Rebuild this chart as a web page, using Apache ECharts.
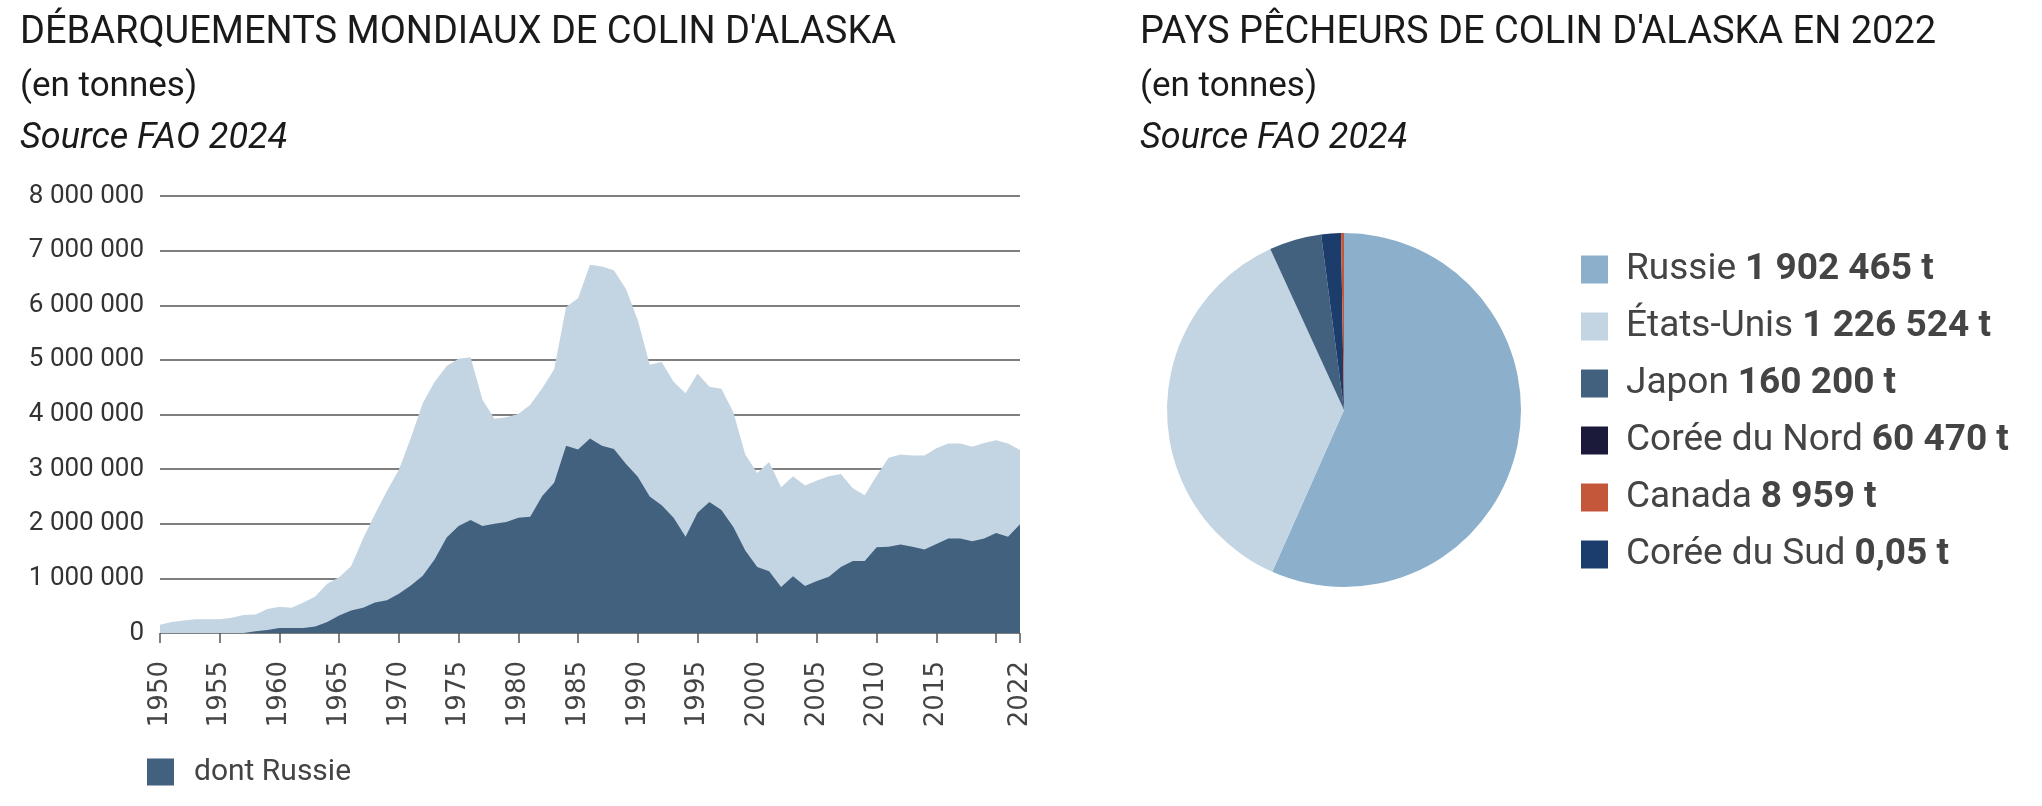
<!DOCTYPE html>
<html><head><meta charset="utf-8">
<script src="https://cdn.jsdelivr.net/npm/echarts@6/dist/echarts.min.js"></script>
<style>html,body{margin:0;padding:0;background:#fff}#c{width:2042px;height:806px}</style>
</head><body><div id="c"></div>
<script>
// ---- Data ----
const years = ['1950','1951','1952','1953','1954','1955','1956','1957','1958','1959',
  '1960','1961','1962','1963','1964','1965','1966','1967','1968','1969',
  '1970','1971','1972','1973','1974','1975','1976','1977','1978','1979',
  '1980','1981','1982','1983','1984','1985','1986','1987','1988','1989',
  '1990','1991','1992','1993','1994','1995','1996','1997','1998','1999',
  '2000','2001','2002','2003','2004','2005','2006','2007','2008','2009',
  '2010','2011','2012','2013','2014','2015','2016','2017','2018','2019',
  '2020','2021','2022'];
const totalLandings = [150000,200000,230000,250000,250000,250000,280000,330000,340000,440000,
  480000,460000,560000,670000,900000,1020000,1220000,1730000,2180000,2600000,
  2990000,3570000,4210000,4600000,4890000,5020000,5050000,4270000,3920000,3950000,
  4010000,4180000,4480000,4830000,5970000,6130000,6740000,6710000,6640000,6300000,
  5730000,4910000,4960000,4600000,4390000,4750000,4510000,4470000,4040000,3270000,
  2930000,3130000,2670000,2870000,2700000,2790000,2870000,2910000,2650000,2520000,
  2880000,3210000,3270000,3250000,3250000,3380000,3470000,3470000,3410000,3480000,
  3530000,3470000,3350000];
const russiaLandings = [0,0,0,0,0,0,0,0,30000,55000,
  90000,90000,90000,120000,200000,320000,410000,460000,560000,600000,
  720000,870000,1050000,1350000,1750000,1960000,2070000,1960000,2000000,2030000,
  2110000,2130000,2510000,2750000,3430000,3360000,3560000,3430000,3370000,3100000,
  2860000,2500000,2340000,2110000,1760000,2200000,2400000,2250000,1940000,1510000,
  1210000,1130000,840000,1040000,860000,950000,1030000,1210000,1320000,1320000,
  1570000,1580000,1620000,1580000,1530000,1630000,1730000,1730000,1680000,1730000,
  1830000,1760000,1990000];
const yTicks = [0,1000000,2000000,3000000,4000000,5000000,6000000,7000000,8000000];

const countries = ['Russie','États-Unis','Japon','Corée du Nord','Canada','Corée du Sud'];
const countryValues = [1902465,1226524,160200,60470,8959,0.05];
const countryLabels = ['1 902 465 t','1 226 524 t','160 200 t','60 470 t','8 959 t','0,05 t'];

// ---- Styles ----
const sliceColors = ['#8cb0cb','#c3d5e2','#41617f','#1c3c6c','#c4573a','#1c3c6c'];
const legendColors = ['#8cb0cb','#c3d5e2','#41617f','#1b1a3a','#c4573a','#1b3d6e'];
const fmt = n => String(n).replace(/\B(?=(\d{3})+(?!\d))/g, ' ');
const F = 'Roboto';
const tStyle = (size, italic) => ({fontFamily:F, fontSize:size, fontWeight:'normal', fontStyle: italic?'italic':'normal', color:'#1a1a1a'});

const chart = echarts.init(document.getElementById('c'));
chart.setOption({
  animation:false,
  title:[
    {text:"DÉBARQUEMENTS MONDIAUX DE COLIN D'ALASKA", left:20, top:14, padding:0, textStyle:tStyle(38)},
    {text:'(en tonnes)', left:20, top:70, padding:0, textStyle:tStyle(35)},
    {text:'Source FAO 2024', left:20, top:121, padding:0, textStyle:tStyle(36,true)},
    {text:"PAYS PÊCHEURS DE COLIN D'ALASKA EN 2022", left:1140, top:14, padding:0, textStyle:tStyle(38)},
    {text:'(en tonnes)', left:1140, top:70, padding:0, textStyle:tStyle(35)},
    {text:'Source FAO 2024', left:1140, top:121, padding:0, textStyle:tStyle(36,true)}
  ],
  grid:{left:160, right:1022, top:196, bottom:173},
  xAxis:{
    type:'category', data:years, boundaryGap:false,
    axisLine:{show:false},
    axisTick:{show:true, length:10, lineStyle:{color:'#555', width:1.5},
      interval:(i,v)=> (+v)%5===0 || v==='2022'},
    axisLabel:{rotate:90, margin:28, fontFamily:'DejaVu Sans', fontSize:26, color:'#444',
      interval:(i,v)=> ((+v)%5===0 && v!=='2020') || v==='2022'}
  },
  yAxis:{
    type:'value', min:yTicks[0], max:yTicks[yTicks.length-1], interval:yTicks[1]-yTicks[0],
    axisLine:{show:false}, axisTick:{show:false},
    axisLabel:{margin:16, fontFamily:F, fontSize:26, color:'#333', formatter:v=>fmt(v)},
    splitLine:{lineStyle:{color:'#555', width:1.5}}
  },
  legend:[
    {data:['dont Russie'], left:147, top:757, padding:0, itemWidth:27, itemHeight:27, icon:'rect',
      formatter:n=>'{n|'+n+'}',
      textStyle:{rich:{n:{fontFamily:F, fontSize:30, color:'#444', padding:[0,0,0,15]}}}},
    {data:countries.map((n,i)=>({name:n, icon:'rect', itemStyle:{color:legendColors[i]}})),
      orient:'vertical', left:1581, top:251, padding:0, itemWidth:27, itemHeight:28, itemGap:20,
      formatter:n=>'{n|'+n+'}{v|'+countryLabels[countries.indexOf(n)]+'}',
      textStyle:{rich:{
        n:{fontFamily:F, fontSize:37, lineHeight:37, color:'#444', padding:[0,0,0,13]},
        v:{fontFamily:F, fontSize:37, lineHeight:37, fontWeight:'bold', color:'#444', padding:[0,0,0,9]}}}}
  ],
  series:[
    {name:'Total', type:'line', data:totalLandings, symbol:'none', silent:true,
      lineStyle:{width:0}, itemStyle:{color:'#c3d5e2'}, areaStyle:{color:'#c3d5e2', opacity:1}},
    {name:'dont Russie', type:'line', data:russiaLandings, symbol:'none', silent:true,
      lineStyle:{width:0}, itemStyle:{color:'#41617f'}, areaStyle:{color:'#41617f', opacity:1}},
    {name:'Pays', type:'pie', center:[1344,410], radius:177, startAngle:90, clockwise:true,
      silent:true, label:{show:false}, labelLine:{show:false}, minAngle:0,
      data:countries.map((n,i)=>({name:n, value:countryValues[i], itemStyle:{color:sliceColors[i]}}))}
  ]
});
</script></body></html>
